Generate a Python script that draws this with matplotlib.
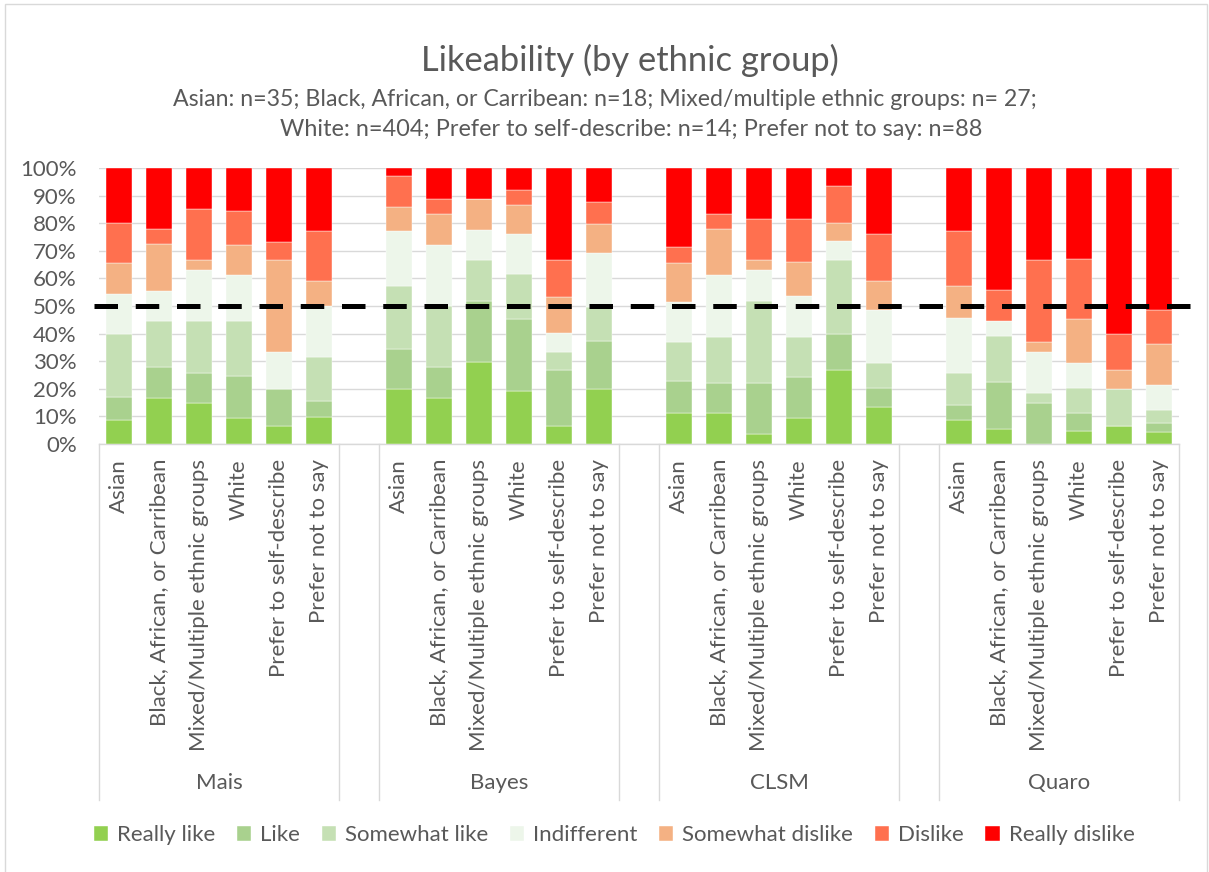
import matplotlib
matplotlib.use("Agg")
import matplotlib.pyplot as plt
from matplotlib.patches import Rectangle
import matplotlib.transforms as mtransforms

plt.rcParams['font.family'] = ['Lato', 'DejaVu Sans']

# data (percent of respondents per answer)
methods = ["Mais", "Bayes", "CLSM", "Quaro"]
groups = ["Asian", "Black, African, or Carribean", "Mixed/Multiple ethnic groups",
          "White", "Prefer to self-describe", "Prefer not to say"]
levels = ["Really like", "Like", "Somewhat like", "Indifferent",
          "Somewhat dislike", "Dislike", "Really dislike"]

# each list: Mais (6 groups), Bayes (6), CLSM (6), Quaro (6)
really_like = [8.6, 16.7, 14.8, 9.4, 6.7, 9.8,
               20.0, 16.7, 29.6, 19.2, 6.7, 20.1,
               11.4, 11.1, 3.7, 9.4, 26.7, 13.4,
               8.6, 5.6, 0.0, 4.7, 6.7, 4.4]
like = [8.5, 11.1, 11.1, 15.3, 13.3, 5.8,
        14.3, 11.1, 22.2, 26.1, 20.0, 17.3,
        11.4, 11.1, 18.5, 14.9, 13.3, 6.8,
        5.7, 16.7, 14.8, 6.5, 0.0, 3.2]
somewhat_like = [22.9, 16.7, 18.5, 19.8, 0.0, 16.0,
                 22.9, 22.2, 14.8, 16.2, 6.7, 12.3,
                 14.3, 16.7, 29.6, 14.5, 26.7, 9.2,
                 11.4, 16.7, 3.7, 9.2, 13.3, 4.6]
indifferent = [14.3, 11.1, 18.5, 16.9, 13.3, 18.3,
               20.0, 22.2, 11.1, 14.7, 6.7, 19.6,
               14.3, 22.2, 11.1, 14.8, 6.7, 19.2,
               20.0, 5.6, 14.8, 9.1, 0.0, 9.1]
somewhat_dislike = [11.4, 16.7, 3.7, 10.8, 33.3, 9.2,
                    8.6, 11.1, 11.1, 10.4, 13.3, 10.4,
                    14.3, 16.7, 3.7, 12.3, 6.7, 10.4,
                    11.4, 0.0, 3.7, 15.7, 6.7, 14.9]
dislike = [14.3, 5.6, 18.5, 12.2, 6.7, 18.0,
           11.4, 5.6, 0.0, 5.3, 13.3, 7.8,
           5.7, 5.6, 14.8, 15.7, 13.3, 17.1,
           20.0, 11.1, 29.6, 21.8, 13.3, 12.5]
really_dislike = [20.0, 22.2, 14.8, 15.6, 26.7, 22.9,
                  2.9, 11.1, 11.1, 8.1, 33.3, 12.5,
                  28.6, 16.7, 18.5, 18.4, 6.7, 23.9,
                  22.9, 44.4, 33.3, 33.0, 60.0, 51.3]

series = [really_like, like, somewhat_like, indifferent,
          somewhat_dislike, dislike, really_dislike]
colors = ["#92D050", "#A9D18E", "#C5E0B4", "#EDF6EA",
          "#F4B183", "#FF704F", "#FF0000"]
text_col = "#595959"
grid_col = "#D9D9D9"
fs = 16

fig = plt.figure(figsize=(12.09, 8.72), dpi=100)
ax = fig.add_axes([99 / 1209, 1 - 444 / 872, 1080 / 1209, 276 / 872])

# x positions: 6 bars per method then one empty slot
xpos = [m * 7 + i for m in range(len(methods)) for i in range(len(groups))]

bottom = [0.0] * len(xpos)
for vals, col, lab in zip(series, colors, levels):
    ax.bar(xpos, vals, width=0.66, bottom=bottom, color=col, label=lab,
           edgecolor="white", linewidth=0.3, zorder=3)
    bottom = [b + v for b, v in zip(bottom, vals)]

# 50% reference line
ax.plot([-0.63, 26.94], [50, 50], color="black", lw=3.6,
        linestyle=(0, (4.7, 3.55)), solid_capstyle="butt",
        dash_capstyle="butt", clip_on=False, zorder=5)

ax.set_xlim(-0.5, 26.5)
ax.set_ylim(0, 100)
ax.set_yticks(range(0, 101, 10))
ax.set_yticklabels([f"{v}%" for v in range(0, 101, 10)])
ax.tick_params(axis="y", length=0, pad=16, labelsize=fs, labelcolor=text_col)
ax.set_xticks([])
ax.yaxis.grid(True, color=grid_col, lw=1)
ax.set_axisbelow(True)
for s in ["top", "right", "left"]:
    ax.spines[s].set_visible(False)
ax.spines["bottom"].set_color(grid_col)
ax.spines["bottom"].set_linewidth(1)

trans = mtransforms.blended_transform_factory(ax.transData, ax.transAxes)
# category labels
for x, g in zip(xpos, groups * len(methods)):
    ax.text(x, -15 / 276, g, rotation=90, ha="center", va="top",
            fontsize=fs, color=text_col, transform=trans)
# method labels and separators
for m, name in enumerate(methods):
    ax.text(m * 7 + 2.5, -339 / 276, name, ha="center", va="center",
            fontsize=fs, color=text_col, transform=trans)
    for xb in [m * 7 - 0.5, m * 7 + 5.5]:
        ax.plot([xb, xb], [0, -356 / 276], color=grid_col, lw=1,
                transform=trans, clip_on=False)

fig.text(630 / 1209, 1 - 60 / 872, "Likeability (by ethnic group)", ha="center",
         va="center", fontsize=24.8, color=text_col)
fig.text(173 / 1209, 1 - 100 / 872,
         "Asian: n=35; Black, African, or Carribean: n=18; Mixed/multiple ethnic groups: n= 27;",
         ha="left", va="center", fontsize=16.7, color=text_col)
fig.text(631 / 1209, 1 - 130 / 872,
         "White: n=404; Prefer to self-describe: n=14; Prefer not to say: n=88",
         ha="center", va="center", fontsize=16.9, color=text_col)

leg = fig.legend(loc="center", bbox_to_anchor=(0.508, 1 - 835 / 872), ncol=7,
                 frameon=False, fontsize=fs, handlelength=0.65,
                 handleheight=0.65, handletextpad=0.4, columnspacing=0.97)
for t in leg.get_texts():
    t.set_color(text_col)

fig.patches.append(Rectangle((5 / 1209, -0.01), 1202 / 1209, 1 - 4 / 872 + 0.01,
                             transform=fig.transFigure, fill=False,
                             edgecolor=grid_col, lw=1))

fig.savefig("out.png", dpi=100)
